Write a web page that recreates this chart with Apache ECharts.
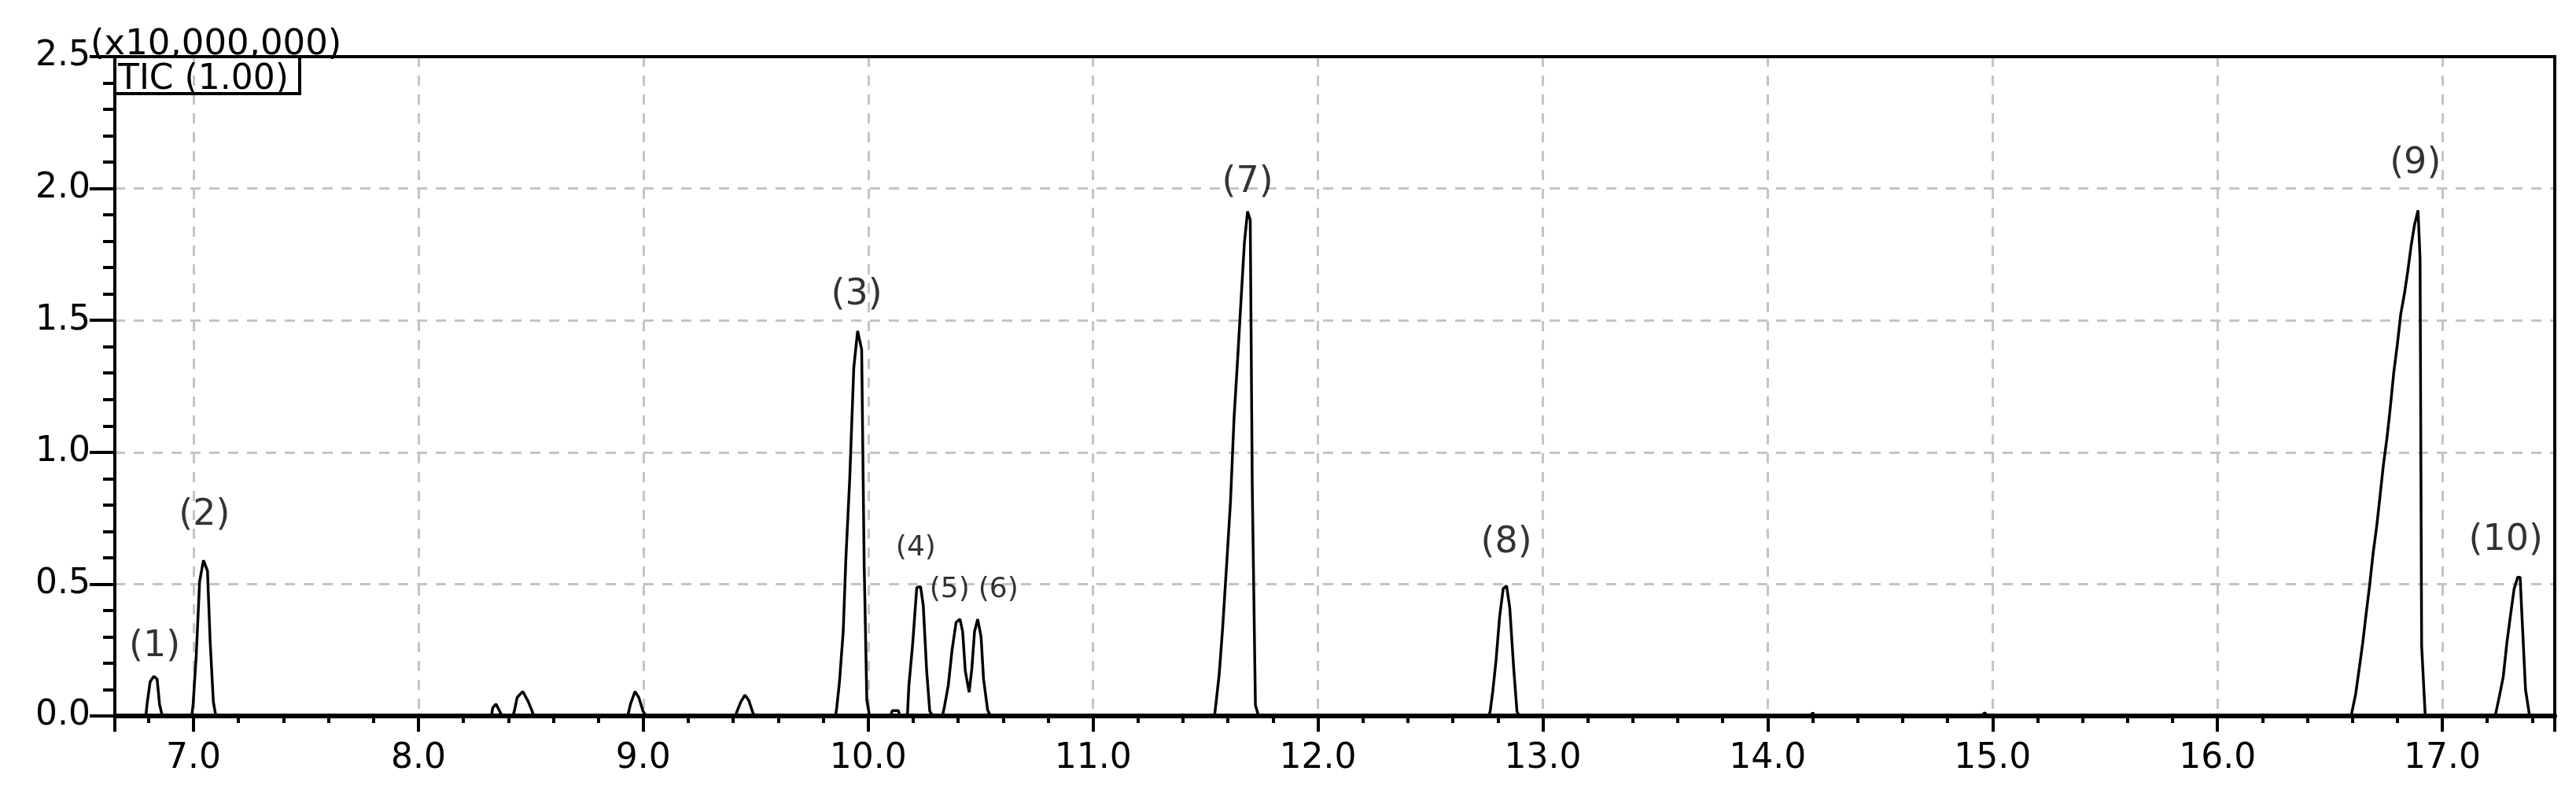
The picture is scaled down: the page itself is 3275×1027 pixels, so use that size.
<!DOCTYPE html>
<html>
<head>
<meta charset="utf-8">
<title>TIC</title>
<script src="https://cdn.jsdelivr.net/npm/echarts@6/dist/echarts.min.js"></script>
<style>
  html, body { margin: 0; padding: 0; background: #fff; }
  #chart { width: 3275px; height: 1027px; }
</style>
</head>
<body>
<div id="chart"></div>
<script>
// retention time (min) and intensity (x10,000,000)
const retentionTime = [
  6.65, 6.788, 6.793, 6.807, 6.823, 6.838, 6.849, 6.861,
  6.992, 6.998, 7.012, 7.027, 7.044, 7.062, 7.074, 7.088, 7.099,
  8.325, 8.330, 8.345, 8.360, 8.372,
  8.420, 8.427, 8.439, 8.464, 8.488, 8.505, 8.512,
  8.931, 8.943, 8.963, 8.980, 8.998, 9.012,
  9.410, 9.417, 9.434, 9.452, 9.469, 9.487, 9.495,
  9.855, 9.860, 9.872, 9.889, 9.901, 9.918, 9.936, 9.953, 9.971, 9.982, 9.994, 10.006,
  10.100, 10.107, 10.135, 10.140,
  10.169, 10.175, 10.181, 10.198, 10.216, 10.233, 10.245, 10.260, 10.274, 10.288,
  10.330, 10.338, 10.356, 10.373, 10.391, 10.408, 10.420, 10.432, 10.449, 10.461, 10.473, 10.487, 10.502, 10.513, 10.531, 10.543,
  11.540, 11.547, 11.561, 11.576, 11.594, 11.611, 11.627, 11.643, 11.658, 11.673, 11.687, 11.699, 11.708, 11.722, 11.736,
  12.760, 12.766, 12.777, 12.792, 12.808, 12.824, 12.839, 12.853, 12.871, 12.885, 12.894,
  14.190, 14.200, 14.210,
  14.950, 14.965, 14.980,
  16.595, 16.600, 16.614, 16.631, 16.646, 16.662, 16.677, 16.692, 16.708, 16.723, 16.738, 16.754, 16.769,
  16.784, 16.800, 16.815, 16.832, 16.846, 16.861, 16.876, 16.892, 16.901, 16.908, 16.924,
  17.235, 17.239, 17.254, 17.271, 17.287, 17.302, 17.319, 17.335, 17.346, 17.355, 17.370, 17.388,
  17.5
]
const intensity = [
  0, 0, 0.043, 0.13, 0.15, 0.14, 0.043, 0,
  0, 0.043, 0.23, 0.51, 0.59, 0.55, 0.28, 0.054, 0,
  0, 0.03, 0.045, 0.02, 0,
  0, 0.02, 0.07, 0.093, 0.055, 0.02, 0,
  0, 0.045, 0.093, 0.07, 0.02, 0,
  0, 0.018, 0.054, 0.079, 0.059, 0.013, 0,
  0, 0.03, 0.126, 0.32, 0.60, 0.90, 1.32, 1.46, 1.39, 0.58, 0.06, 0,
  0, 0.02, 0.02, 0,
  0, 0.01, 0.115, 0.275, 0.487, 0.49, 0.419, 0.172, 0.017, 0,
  0, 0.03, 0.115, 0.25, 0.355, 0.367, 0.32, 0.17, 0.09, 0.18, 0.32, 0.367, 0.30, 0.14, 0.023, 0,
  0, 0.05, 0.158, 0.33, 0.573, 0.81, 1.13, 1.354, 1.576, 1.794, 1.913, 1.88, 0.87, 0.04, 0,
  0, 0.018, 0.09, 0.21, 0.377, 0.483, 0.493, 0.41, 0.175, 0.018, 0,
  0, 0.012, 0,
  0, 0.012, 0,
  0, 0.023, 0.080, 0.183, 0.277, 0.393, 0.497, 0.615, 0.718, 0.834, 0.952, 1.055, 1.172,
  1.302, 1.409, 1.523, 1.604, 1.684, 1.781, 1.861, 1.917, 1.734, 0.267, 0,
  0, 0.015, 0.076, 0.149, 0.277, 0.374, 0.481, 0.526, 0.526, 0.364, 0.10, 0,
  0
]

// peak annotations: label text, and where the label sits (time, intensity)
const peakLabels = ['(1)', '(2)', '(3)', '(4)', '(5)', '(6)', '(7)', '(8)', '(9)', '(10)']
const labelTimes = [6.827, 7.048, 9.949, 10.212, 10.362, 10.579, 11.687, 12.838, 16.88, 17.282]
const labelLevels = [0.263, 0.761, 1.597, 0.636, 0.478, 0.478, 2.024, 0.657, 2.093, 0.666]
const smallLabels = ['(4)', '(5)', '(6)']

// axes
const xMin = 6.65
const xMax = 17.5
const yMax = 2.5
const yStep = 0.5
const scaleText = '(x10,000,000)'
const traceName = 'TIC (1.00)'

const FONT = 'DejaVu Sans'

const chart = echarts.init(document.getElementById('chart'), null, { renderer: 'canvas' })

let trace = []
for (let i = 0; i < retentionTime.length; i++) {
  trace.push([retentionTime[i], intensity[i]])
}
let marks = []
for (let i = 0; i < peakLabels.length; i++) {
  const small = smallLabels.indexOf(peakLabels[i]) >= 0
  marks.push({
    value: [labelTimes[i], labelLevels[i]],
    label: { fontSize: small ? 36 : 46 }
  })
}

const gridBox = { left: 146, right: 27, top: 72, bottom: 117 }

chart.setOption({
  animation: false,
  backgroundColor: '#fff',
  grid: {
    left: gridBox.left,
    right: gridBox.right,
    top: gridBox.top,
    bottom: gridBox.bottom,
    show: false,
    containLabel: false,
    outerBoundsMode: 'none'
  },
  xAxis: {
    type: 'value',
    min: xMin,
    max: xMax,
    splitNumber: 10,
    minInterval: 1,
    maxInterval: 1,
    axisLine: { show: true, onZero: false, lineStyle: { color: '#000', width: 6 } },
    axisTick: { show: true, inside: false, length: 20, lineStyle: { color: '#000', width: 4 } },
    minorTick: { show: true, splitNumber: 5, length: 9, lineStyle: { color: '#000', width: 4 } },
    axisLabel: {
      show: true,
      margin: 33,
      color: '#000',
      fontFamily: FONT,
      fontSize: 44,
      showMinLabel: false,
      showMaxLabel: false,
      formatter: v => v.toFixed(1)
    },
    splitLine: {
      show: true,
      showMinLine: false,
      showMaxLine: false,
      lineStyle: { color: '#c4c4c4', width: 3, type: [13, 11] }
    }
  },
  yAxis: {
    type: 'value',
    min: 0,
    max: yMax,
    interval: yStep,
    axisLine: { show: true, onZero: false, lineStyle: { color: '#000', width: 4 } },
    axisTick: { show: true, inside: false, length: 32, lineStyle: { color: '#000', width: 4 } },
    minorTick: { show: true, splitNumber: 5, length: 15, lineStyle: { color: '#000', width: 4 } },
    axisLabel: {
      show: true,
      margin: 31,
      color: '#000',
      fontFamily: FONT,
      fontSize: 44,
      formatter: v => v.toFixed(1)
    },
    splitLine: {
      show: true,
      showMinLine: false,
      showMaxLine: false,
      lineStyle: { color: '#c4c4c4', width: 3, type: [13, 11] }
    }
  },
  graphic: [
    {
      type: 'text',
      z: -10,
      style: {
        text: scaleText,
        x: 115,
        y: 57,
        textVerticalAlign: 'middle',
        font: '45px "' + FONT + '"',
        fill: '#000'
      }
    },
    {
      // plot frame, drawn over the grid lines
      type: 'rect',
      z: 100,
      silent: true,
      shape: {
        x: gridBox.left,
        y: gridBox.top,
        width: 3275 - gridBox.left - gridBox.right,
        height: 1027 - gridBox.top - gridBox.bottom
      },
      style: { fill: 'transparent', stroke: '#000', lineWidth: 4 }
    },
    {
      type: 'rect',
      z: 100,
      silent: true,
      shape: { x: 146, y: 72, width: 235, height: 47 },
      style: { fill: 'transparent', stroke: '#000', lineWidth: 4 }
    },
    {
      type: 'text',
      z: 100,
      style: {
        text: traceName,
        x: 150,
        y: 102,
        textVerticalAlign: 'middle',
        font: '44px "' + FONT + '"',
        fill: '#000'
      }
    }
  ],
  series: [
    {
      name: traceName,
      type: 'line',
      data: trace,
      showSymbol: false,
      symbol: 'none',
      smooth: false,
      lineStyle: { color: '#000', width: 3.5 },
      z: 3
    },
    {
      type: 'scatter',
      data: marks,
      symbolSize: 0,
      silent: true,
      label: {
        show: true,
        position: 'inside',
        color: '#000',
        fontFamily: FONT,
        formatter: p => peakLabels[p.dataIndex]
      },
      z: 4
    }
  ]
})
</script>
</body>
</html>
